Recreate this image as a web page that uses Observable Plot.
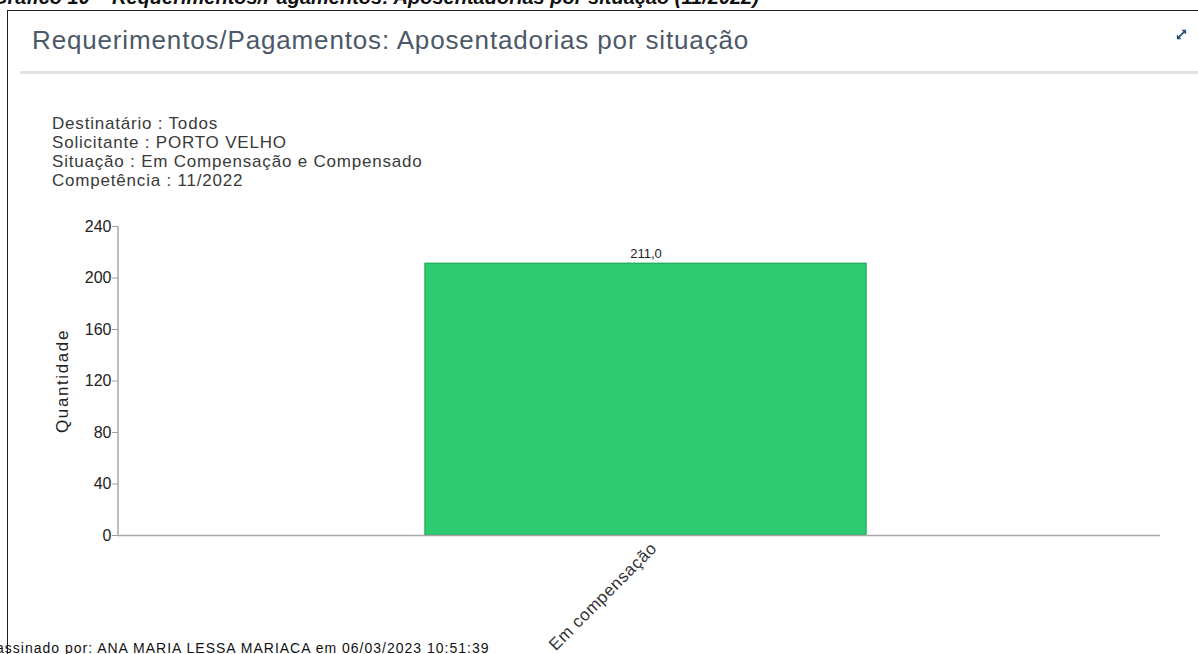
<!DOCTYPE html>
<html>
<head>
<meta charset="utf-8">
<script src="https://cdn.jsdelivr.net/npm/d3@7"></script>
<script src="https://cdn.jsdelivr.net/npm/@observablehq/plot@0.6"></script>
<style>
  html, body { margin: 0; padding: 0; background: #fff; width: 1198px; height: 654px; overflow: hidden; position: relative; font-family: "Liberation Sans", Arial, sans-serif; }
  #cut { position: absolute; left: -8px; top: -14px; font-size: 20px; font-style: italic; font-weight: bold; color: #111; white-space: nowrap; }
  #box { position: absolute; left: 7px; top: 10px; width: 1200px; height: 700px; border-top: 1.5px solid #222; border-left: 1.5px solid #222; }
  #title { position: absolute; left: 32px; top: 25px; font-size: 26px; letter-spacing: 0.85px; color: #4b5868; white-space: nowrap; }
  #sep { position: absolute; left: 20px; top: 71px; width: 1178px; height: 3px; background: #e1e4e7; }
  #icon { position: absolute; left: 1175px; top: 28px; }
  #info { position: absolute; left: 52px; top: 114px; font-size: 17px; letter-spacing: 0.8px; line-height: 19px; color: #3a3a3a; }
  #chart { position: absolute; left: 0; top: 200px; }
  #foot { position: absolute; left: -4px; top: 640px; font-size: 14px; letter-spacing: 1px; color: #111; white-space: nowrap; }
</style>
</head>
<body>
<div id="cut">Gráfico 10 – Requerimentos/Pagamentos: Aposentadorias por situação (11/2022)</div>
<div id="box"></div>
<div id="title">Requerimentos/Pagamentos: Aposentadorias por situação</div>
<svg id="icon" width="13" height="13" viewBox="0 0 14 14">
  <g stroke="#1f4f7a" stroke-width="1.8" fill="#1f4f7a">
    <line x1="3" y1="11" x2="11" y2="3"/>
    <polygon points="7,2 12,2 12,7" stroke="none"/>
    <polygon points="2,7 2,12 7,12" stroke="none"/>
  </g>
</svg>
<div id="sep"></div>
<div id="info">
  Destinatário : Todos<br>
  Solicitante : PORTO VELHO<br>
  Situação : Em Compensação e Compensado<br>
  Competência : 11/2022
</div>
<div id="chart"></div>
<div id="foot">assinado por: ANA MARIA LESSA MARIACA em 06/03/2023 10:51:39</div>
<script>
const categories = ["Em compensação"];
const values = [211.0];
const yTicks = [0, 40, 80, 120, 160, 200, 240];
const yLabel = "Quantidade";

const data = categories.map((c, i) => ({situacao: c, quantidade: values[i]}));
const fmt = v => v.toLocaleString("pt-BR", {minimumFractionDigits: 1, maximumFractionDigits: 1});

const chart = Plot.plot({
  width: 1198,
  height: 454,
  marginTop: 26,
  marginBottom: 119,
  marginLeft: 118,
  marginRight: 38,
  style: {fontFamily: "Liberation Sans, Arial, sans-serif", color: "#222", background: "transparent"},
  x: {domain: categories, padding: 0.405, align: 0.51},
  y: {domain: [0, 240]},
  marks: [
    Plot.barY(data, {x: "situacao", y: "quantidade", fill: "#2ecc71", stroke: "#25b061", strokeWidth: 1.5}),
    Plot.text(data, {x: "situacao", y: "quantidade", text: d => fmt(d.quantidade), dy: -10, fontSize: 13, fill: "#222"}),
    Plot.ruleY([0], {stroke: "#a8a8a8", strokeWidth: 1.5}),
    Plot.axisY({ticks: yTicks, tickSize: 6, tickPadding: 1, fontSize: 16, stroke: "#a0a0a0", fill: "#222", label: null}),
    Plot.text([yLabel], {frameAnchor: "left", textAnchor: "middle", dx: -56, rotate: -90, fontSize: 17, fill: "#222"}),
    Plot.axisX({tickSize: 0, tickPadding: 10, dx: 8, tickRotate: -45, fontSize: 17, fill: "#333", label: null})
  ]
});
document.getElementById("chart").appendChild(chart);
// label letter spacing for rotated x label and y label
d3.select(chart).selectAll("text").filter(function(){ return this.textContent === categories[0]; }).style("letter-spacing", "0.6px");
d3.select(chart).selectAll("text").filter(function(){ return this.textContent === yLabel; }).style("letter-spacing", "1.6px");
// y axis line
d3.select(chart).append("line")
  .attr("x1", 118).attr("x2", 118).attr("y1", 26).attr("y2", 335)
  .attr("stroke", "#a8a8a8").attr("stroke-width", 1.5);
</script>
</body>
</html>
